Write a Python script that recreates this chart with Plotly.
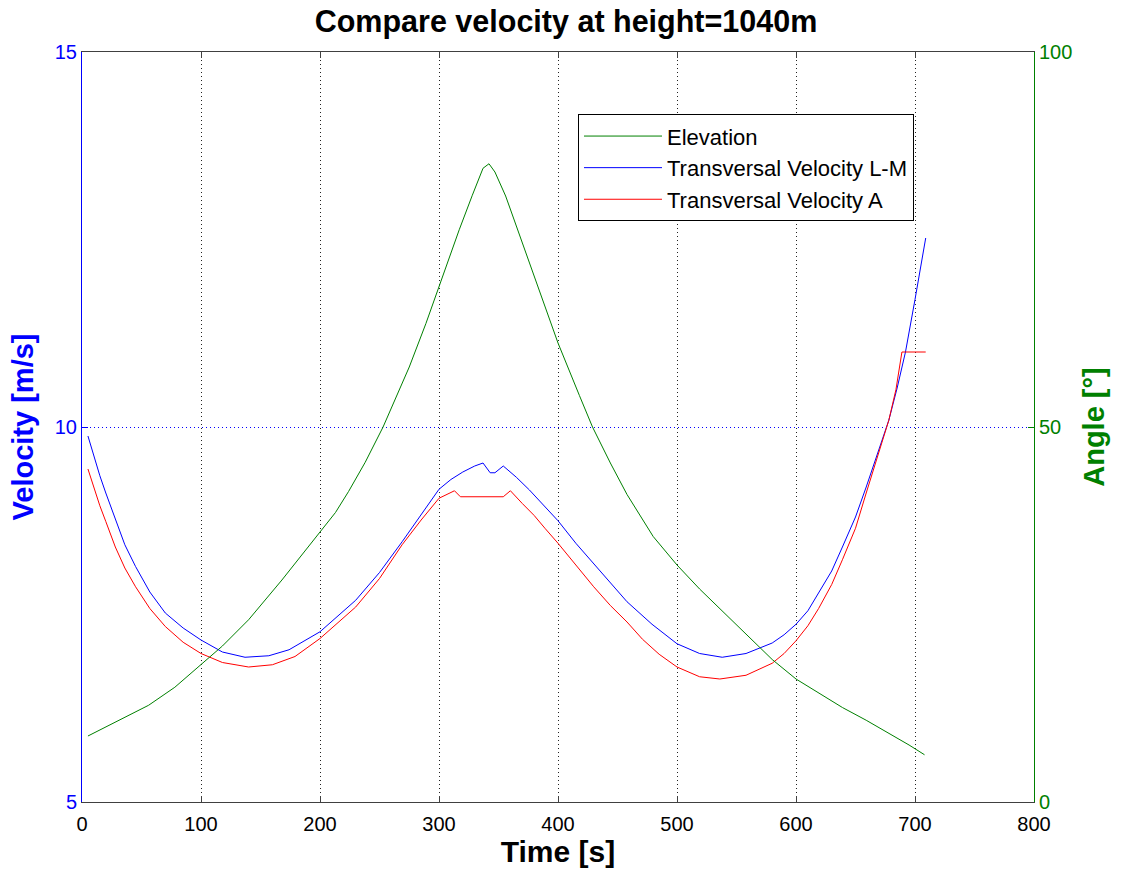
import plotly.graph_objects as go

# ---- data ----
t_lm = [5, 10, 15, 20, 28, 36, 45, 57, 70, 85, 100, 118, 137, 157, 174, 200, 230, 250, 269, 285,
        300, 310, 320, 330, 337, 343, 347, 354, 365, 376, 388, 400, 415, 430, 444, 458, 479, 500,
        519, 538, 558, 580, 590, 600, 610, 619, 630, 639, 650, 659, 668, 678, 685, 692, 700, 709]
v_lm = [9.88, 9.60, 9.35, 9.12, 8.76, 8.43, 8.14, 7.80, 7.52, 7.32, 7.16, 7.00, 6.93, 6.95, 7.03,
        7.27, 7.69, 8.06, 8.47, 8.84, 9.17, 9.30, 9.40, 9.48, 9.52, 9.39, 9.39, 9.48, 9.33, 9.16,
        8.96, 8.75, 8.45, 8.18, 7.92, 7.67, 7.37, 7.11, 6.98, 6.93, 6.98, 7.12, 7.23, 7.37, 7.55,
        7.78, 8.08, 8.40, 8.80, 9.20, 9.62, 10.09, 10.52, 11.0, 11.7, 12.52]

t_a = [5, 10, 15, 20, 28, 36, 45, 57, 70, 85, 100, 118, 140, 160, 179, 200, 230, 250, 269, 285,
       300, 313, 318, 354, 360, 370, 380, 389, 400, 415, 430, 444, 458, 471, 485, 500, 519, 536,
       558, 580, 590, 600, 610, 619, 630, 639, 650, 659, 668, 678, 684, 689, 709]
v_a = [9.44, 9.18, 8.95, 8.74, 8.40, 8.12, 7.87, 7.58, 7.34, 7.13, 6.98, 6.86, 6.80, 6.83, 6.94,
       7.18, 7.60, 7.98, 8.43, 8.76, 9.05, 9.15, 9.07, 9.07, 9.15, 8.98, 8.82, 8.65, 8.45, 8.16,
       7.87, 7.62, 7.40, 7.17, 6.97, 6.80, 6.67, 6.64, 6.69, 6.85, 6.98, 7.15, 7.35, 7.58, 7.90,
       8.23, 8.65, 9.12, 9.58, 10.09, 10.50, 11.0, 11.0]

t_el = [5, 28, 56, 78, 100, 118, 140, 154, 168, 182, 200, 213, 224, 238, 253, 264, 275, 289, 300,
        309, 317, 328, 337, 342, 347, 356, 368, 379, 400, 418, 429, 444, 458, 480, 500, 519, 541,
        558, 580, 600, 620, 639, 659, 681, 695, 708]
elev = [8.8, 10.6, 12.9, 15.3, 18.3, 20.8, 24.3, 26.9, 29.6, 32.4, 36.0, 38.6, 41.4, 45.3, 50.0,
        53.9, 58.0, 63.8, 68.8, 72.8, 76.3, 80.9, 84.5, 85.1, 84.0, 80.8, 75.4, 70.6, 61.2, 54.2,
        50.0, 45.2, 41.0, 35.4, 31.6, 28.4, 25.0, 22.3, 19.0, 16.4, 14.4, 12.6, 10.9, 8.9, 7.6, 6.3]

GREEN = "rgb(0,128,0)"
BLUE = "rgb(0,0,255)"
RED = "rgb(255,0,0)"
FONT = "Liberation Sans, Arial, sans-serif"
DOT = "1px,3px"

fig = go.Figure()
fig.add_trace(go.Scatter(x=t_el, y=elev, name="Elevation", mode="lines",
                         line=dict(color=GREEN, width=1), yaxis="y2"))
fig.add_trace(go.Scatter(x=t_lm, y=v_lm, name="Transversal Velocity L-M", mode="lines",
                         line=dict(color=BLUE, width=1)))
fig.add_trace(go.Scatter(x=t_a, y=v_a, name="Transversal Velocity A", mode="lines",
                         line=dict(color=RED, width=1)))

fig.update_layout(
    width=1132, height=870,
    margin=dict(l=82, r=98, t=52, b=68),
    paper_bgcolor="white", plot_bgcolor="white",
    font=dict(family=FONT, size=20, color="black"),
    title=dict(text="<b>Compare velocity at height=1040m</b>", x=0.5, xanchor="center",
               y=0.988, yanchor="top", font=dict(size=30.5, family=FONT)),
    xaxis=dict(range=[0, 800], tickvals=[0, 100, 200, 300, 400, 500, 600, 700, 800],
               ticks="inside", ticklen=6, tickcolor="#404040", automargin=False,
               ticklabelstandoff=4,
               showline=True, linecolor="#404040", linewidth=1, mirror="ticks",
               showgrid=True, gridcolor="#222222", griddash=DOT, gridwidth=1,
               zeroline=False,
               title=dict(text="<b>Time [s]</b>", font=dict(size=30), standoff=6),
               tickfont=dict(size=20)),
    yaxis=dict(range=[5, 15], tickvals=[5, 10, 15], ticks="inside", ticklen=6,
               tickcolor=BLUE, showline=True, linecolor=BLUE, linewidth=1, automargin=False,
               showgrid=True, gridcolor=BLUE, griddash=DOT, gridwidth=1, zeroline=False,
               tickfont=dict(color=BLUE, size=20),
               title=dict(text="<b>Velocity [m/s]</b>", font=dict(size=29, color=BLUE), standoff=12)),
    yaxis2=dict(range=[0, 100], tickvals=[0, 50, 100], overlaying="y", side="right",
                ticks="inside", ticklen=6, tickcolor=GREEN, showline=True, linecolor=GREEN,
                linewidth=1, showgrid=False, zeroline=False, automargin=False,
                tickfont=dict(color=GREEN, size=20),
                title=dict(text="<b>Angle [°]</b>", font=dict(size=29, color=GREEN), standoff=12)),
    legend=dict(x=0.521, y=0.917, xanchor="left", yanchor="top",
                bgcolor="white", bordercolor="black", borderwidth=1,
                font=dict(size=22), tracegroupgap=0, itemwidth=78),
    showlegend=True,
)

fig.write_html("out.html")
